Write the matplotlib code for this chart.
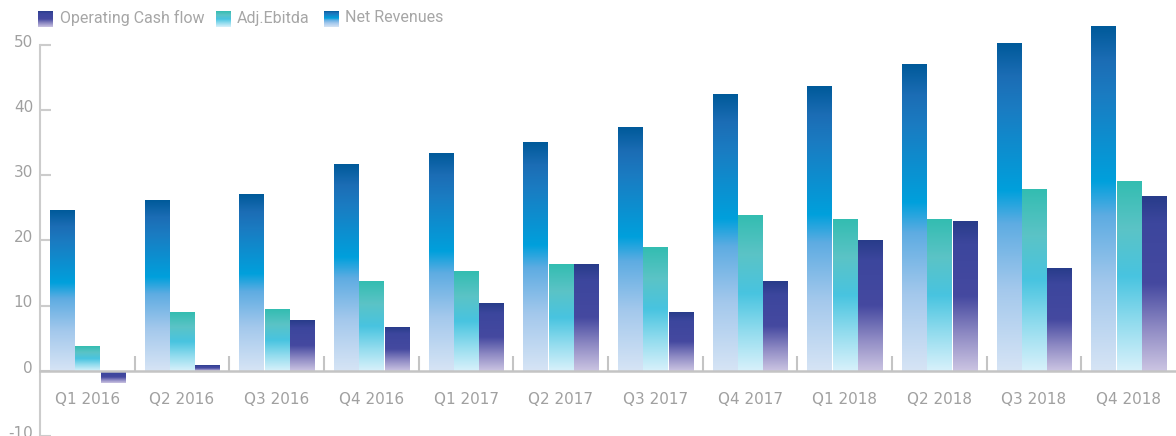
import numpy as np
import matplotlib
matplotlib.use("Agg")
import matplotlib.pyplot as plt
import matplotlib.transforms as mtransforms
from matplotlib.colors import LinearSegmentedColormap

categories = ["Q1 2016", "Q2 2016", "Q3 2016", "Q4 2016", "Q1 2017", "Q2 2017",
              "Q3 2017", "Q4 2017", "Q1 2018", "Q2 2018", "Q3 2018", "Q4 2018"]
net_revenues = [24.7, 26.2, 27.1, 31.7, 33.4, 35.1, 37.4, 42.5, 43.6, 47.1, 50.2, 52.8]
adj_ebitda = [3.8, 8.9, 9.4, 13.7, 15.2, 16.3, 19.0, 23.9, 23.3, 23.2, 27.8, 29.1]
op_cash_flow = [-1.8, 0.8, 7.8, 6.7, 10.3, 16.4, 8.9, 13.8, 20.1, 23.0, 15.8, 26.7]
y_ticks = [-10, 0, 10, 20, 30, 40, 50]

# gradients: position 0 = bottom of bar, 1 = top of bar
cmap_nr = LinearSegmentedColormap.from_list("nr", [
    (0.0, "#d6e4f5"), (0.25, "#a3c8ec"), (0.45, "#5eace2"), (0.55, "#00a0dc"),
    (0.8, "#1a7cc2"), (0.9, "#1c6db5"), (1.0, "#005a9a")])
cmap_eb = LinearSegmentedColormap.from_list("eb", [
    (0.0, "#d8f1fb"), (0.25, "#93dcee"), (0.5, "#48c4e0"), (0.75, "#5bc3c6"),
    (1.0, "#33bdb1")])
cmap_ocf = LinearSegmentedColormap.from_list("ocf", [
    (0.0, "#cbc4e2"), (0.25, "#8d89c3"), (0.5, "#4549a0"), (0.85, "#3c469d"),
    (1.0, "#283c8a")])

plt.rcParams['font.family'] = ['DejaVu Sans']

fig = plt.figure(figsize=(11.76, 4.36), dpi=100)
ax = fig.add_axes([40 / 1176, 0.0, 1 - 40 / 1176, 1.0])

x = np.arange(len(categories))
off = 0.269
w = 0.254
grad = np.linspace(0, 1, 256).reshape(-1, 1)

series = [(net_revenues, -off, cmap_nr), (adj_ebitda, 0.0, cmap_eb), (op_cash_flow, off, cmap_ocf)]
for vals, o, cmap in series:
    bars = ax.bar(x + o, vals, width=w, color="none", edgecolor="none")
    for b in bars:
        x0 = b.get_x()
        x1 = x0 + b.get_width()
        y0 = b.get_y()
        y1 = y0 + b.get_height()
        lo, hi = min(y0, y1), max(y0, y1)
        ax.imshow(grad, cmap=cmap, extent=[x0, x1, lo, hi], origin="lower",
                  aspect="auto", interpolation="bilinear", zorder=2)

ax.set_xlim(-0.5, len(categories) - 0.5)
ax.set_ylim(-10, 56.9)

for s in ["top", "right"]:
    ax.spines[s].set_visible(False)
ax.spines["bottom"].set_position(("data", 0))
ax.spines["bottom"].set_color("#c4c4c4")
ax.spines["bottom"].set_linewidth(1.8)
ax.spines["bottom"].set_zorder(3)
ax.spines["left"].set_color("#cccccc")
ax.spines["left"].set_linewidth(1.5)
ax.spines["left"].set_bounds(-10, 50)

ax.set_yticks(y_ticks)
ax.set_yticklabels([str(t) for t in y_ticks])
ax.tick_params(axis="y", direction="in", length=8, width=1.5, color="#cccccc",
               labelcolor="#a0a0a0", labelsize=11, pad=5)
shift = mtransforms.ScaledTranslation(0, 3 / 72, fig.dpi_scale_trans)
for lbl in ax.get_yticklabels():
    lbl.set_transform(lbl.get_transform() + shift)

ax.set_xticks(x)
ax.set_xticklabels(categories)
ax.set_xticks(np.arange(0.5, len(categories) - 0.5, 1.0), minor=True)
ax.tick_params(axis="x", which="major", length=0, labelcolor="#a0a0a0",
               labelsize=11, pad=15)
ax.tick_params(axis="x", which="minor", direction="in", length=11, width=1.5,
               color="#c4c4c4")

# legend with gradient swatches
legend_items = [("Operating Cash flow", cmap_ocf, 38, 60),
                ("Adj.Ebitda", cmap_eb, 216, 237),
                ("Net Revenues", cmap_nr, 324, 345)]
H = 436
for label, cmap, px, tx in legend_items:
    sax = fig.add_axes([px / 1176, (H - 27) / H, 15 / 1176, 16 / H])
    sax.imshow(grad, cmap=cmap, origin="lower", aspect="auto", interpolation="bilinear")
    sax.axis("off")
    fig.text(tx / 1176, (H - 18) / H, label, color="#a6a6a6", fontsize=11.5,
             va="center", ha="left", family=["Roboto", "DejaVu Sans"])

fig.savefig("out.png", dpi=100)
